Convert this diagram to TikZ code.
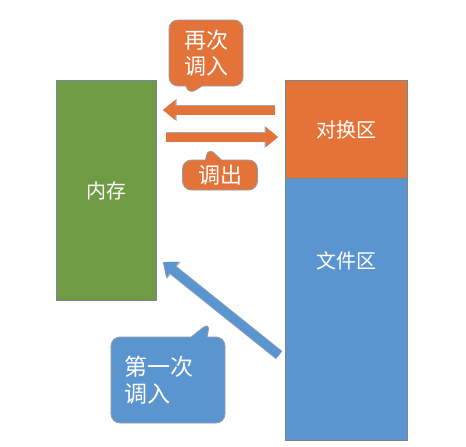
\documentclass[tikz,border=0pt]{standalone}
\usepackage{fontspec}
\setmainfont{Noto Sans CJK SC}
\usetikzlibrary{shapes.callouts,arrows.meta}
\definecolor{memgreen}{HTML}{6F9B45}
\definecolor{swaporange}{HTML}{E4733A}
\definecolor{fileblue}{HTML}{5B95CF}
\definecolor{edgegray}{HTML}{7A8494}
\begin{document}
\begin{tikzpicture}[x=1pt,y=-1pt]
\tikzset{blok/.style={rectangle, draw=edgegray, line width=0.8pt, text=white, font=\fontsize{20}{24}\selectfont, inner sep=0}}
\tikzset{sprech/.style={rectangle callout, rounded corners=9pt, draw=edgegray!80, line width=0.8pt, text=white, align=left, callout pointer width=16pt, inner sep=0}}
\tikzset{pijl/.style={line width=9pt, -{Triangle[width=19pt,length=12pt]}, preaction={draw=edgegray!70, line width=10.4pt, -{Triangle[width=21pt,length=13.5pt]}}}}
\useasboundingbox (0,0) rectangle (466,447);
\node[blok, fill=memgreen, minimum width=100pt, minimum height=220pt] at (106,190) (mem) {};
\node[text=white, font=\fontsize{20}{24}\selectfont] at (106,191) (memtxt) {内存};
\node[blok, fill=swaporange, minimum width=122pt, minimum height=98pt] at (346,129) (swap) {};
\node[blok, fill=fileblue, minimum width=122pt, minimum height=262pt] at (346,309) (file) {};
\node[text=white, font=\fontsize{20}{24}\selectfont] at (346,130) (swaptxt) {对换区};
\node[text=white, font=\fontsize{20}{24}\selectfont] at (346,261) (filetxt) {文件区};
\coordinate (inS) at (275,110);
\coordinate (inE) at (163,110);
\coordinate (outS) at (166,137);
\coordinate (outE) at (278,137);
\coordinate (firstS) at (279,355);
\coordinate (firstE) at (163,262);
			\draw [pijl, swaporange] (inS) -- (inE);
			\draw [pijl, swaporange] (outS) -- (outE);
			\draw [pijl, fileblue] (firstS) -- (firstE);

			% callouts
\node[sprech, fill=swaporange, minimum width=74pt, minimum height=66pt, font=\fontsize{22}{26}\selectfont, callout absolute pointer={(188,95)}] at (206,53) (again) {再次\\调入};
\node[sprech, fill=swaporange, minimum width=75pt, minimum height=30pt, font=\fontsize{22}{26}\selectfont, callout absolute pointer={(208,147)}] at (220,175) (out) {调出};
\node[sprech, fill=fileblue, minimum width=114pt, minimum height=86pt, text width=88pt, font=\fontsize{23}{27}\selectfont, callout absolute pointer={(210,322)}] at (168,380) (first) {第一次\\调入};
\end{tikzpicture}
\end{document}
